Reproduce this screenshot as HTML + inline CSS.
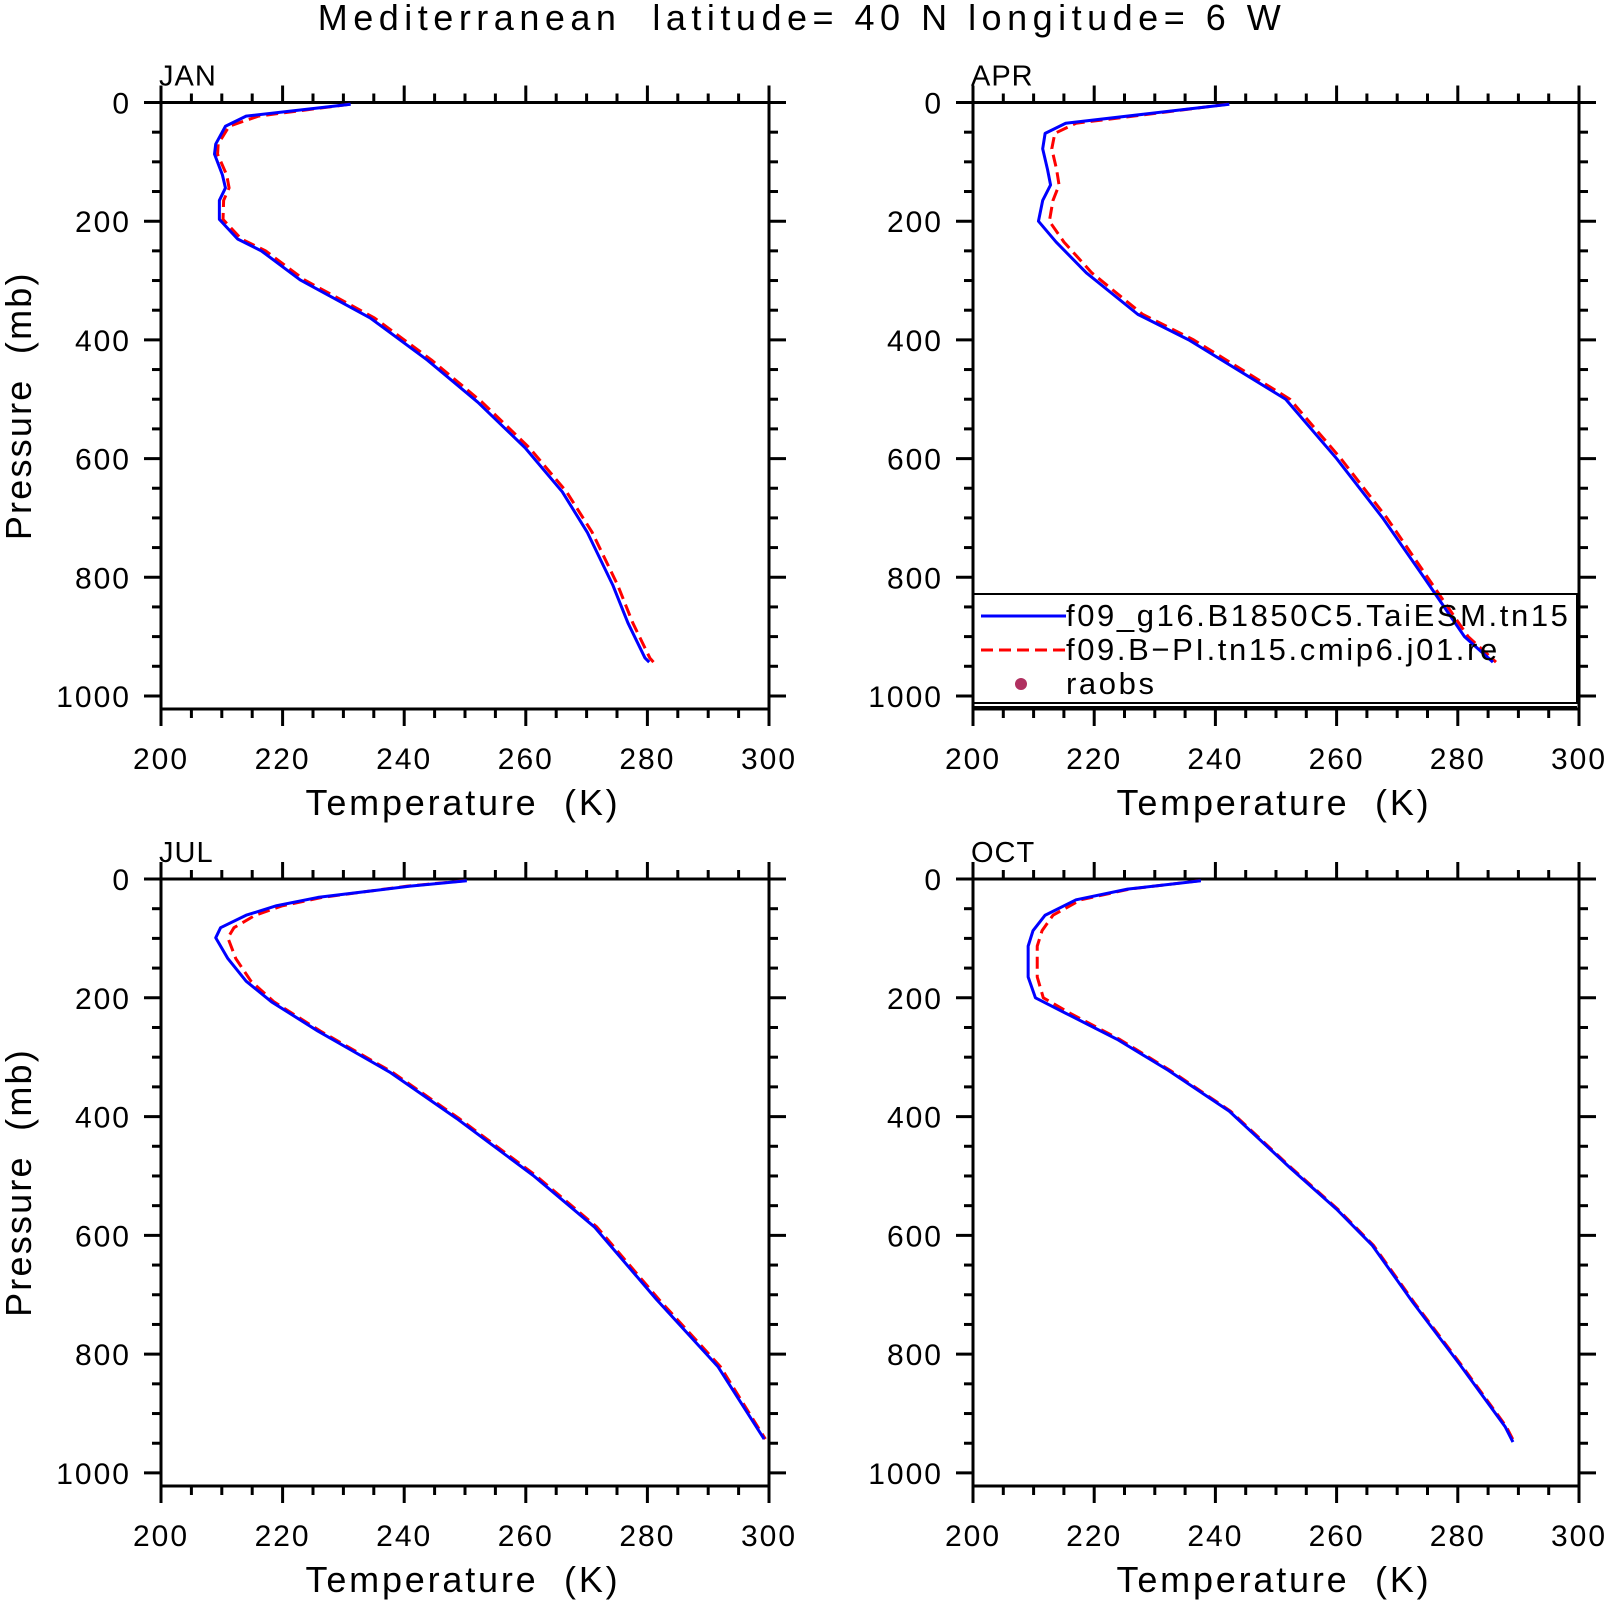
<!DOCTYPE html>
<html><head><meta charset="utf-8"><style>
html,body{margin:0;padding:0;background:#fff}
svg{display:block}
text{font-family:"Liberation Sans",sans-serif;fill:#000}
</style></head><body>
<svg id="chart" width="1606" height="1600" viewBox="0 0 1606 1600" xmlns="http://www.w3.org/2000/svg">
<text x="802" y="30" font-size="36" text-anchor="middle" letter-spacing="5.5" style="white-space:pre" xml:space="preserve">Mediterranean  latitude= 40 N longitude= 6 W</text>
<g id="panels"></g>
</svg>
<script>
// Data (temperature K vs pressure mb)
const janP = [3, 23, 40, 70, 87, 122, 144, 165, 197, 230, 250, 299, 363, 434, 505, 582, 656, 724, 813, 877, 936, 943];
const janBlue = [231.2, 214, 210.6, 209, 208.8, 210.1, 210.6, 209.6, 209.6, 212.6, 216.5, 222.9, 234.4, 243.8, 252.1, 259.9, 266.0, 270.1, 274.3, 276.8, 279.6, 280.3];
const janRed = [231.0, 216, 211.2, 209.4, 209.3, 210.8, 211.2, 210.3, 210.2, 213.2, 217.2, 223.6, 235.1, 244.5, 252.8, 260.6, 266.7, 270.9, 275.1, 277.6, 280.4, 281.0];
const aprP = [3, 35, 52, 78, 113, 139, 165, 200, 235, 287, 357, 400, 500, 600, 700, 800, 900, 943];
const aprBlue = [242.3, 215.3, 211.9, 211.5, 212.3, 212.8, 211.5, 210.8, 213.7, 218.7, 227.2, 235.6, 251.6, 260, 267.6, 274.4, 281.1, 285.8];
const aprRed = [242.0, 217.0, 213.5, 213.0, 213.8, 214.2, 213.2, 212.6, 215.0, 219.6, 228.0, 236.4, 252.3, 260.7, 268.3, 275.0, 281.7, 286.3];
const julP = [3, 12, 31, 45, 61, 82, 99, 134, 172, 207, 256, 325, 403, 499, 586, 708, 821, 943];
const julBlue = [250.3, 241, 225.8, 219, 214, 209.8, 209, 211, 214, 218.2, 225.8, 237.6, 248.6, 261.2, 271.3, 281.5, 291.6, 299.2];
const julRed = [250.0, 240.5, 226.5, 220, 215.5, 212.0, 211.0, 212.3, 214.8, 218.6, 226.2, 238.0, 249.0, 261.6, 271.7, 281.9, 292.0, 299.4];
const octP = [3, 17, 35, 61, 87, 113, 165, 200, 226, 270, 322, 391, 487, 556, 617, 713, 817, 922, 948];
const octBlue = [237.6, 225.5, 217, 211.9, 209.9, 209.1, 209.1, 210.3, 215.3, 223.8, 232.2, 242.3, 252.4, 260, 265.9, 272.6, 280.3, 287.8, 289.1];
const octRed = [237.4, 225.8, 217.8, 213.2, 211.4, 210.6, 210.6, 211.6, 216.0, 224.2, 232.5, 242.5, 252.6, 260.2, 266.1, 272.8, 280.5, 288.0, 289.3];
const xTicks = [200, 220, 240, 260, 280, 300];
const yTicks = [0, 200, 400, 600, 800, 1000];

const NS = "http://www.w3.org/2000/svg";
const root = document.getElementById('panels');
function mk(tag, attrs, parent) {
  const e = document.createElementNS(NS, tag);
  for (const k in attrs) e.setAttribute(k, attrs[k]);
  (parent || root).appendChild(e);
  return e;
}
const panels = [
  {name:'jan', label:'JAN', x0:161, x1:769, y0:102.5, y1:709, P:janP, B:janBlue, R:janRed, ytitle:true},
  {name:'apr', label:'APR', x0:973, x1:1579, y0:102.5, y1:709, P:aprP, B:aprBlue, R:aprRed, ytitle:false, legend:true},
  {name:'jul', label:'JUL', x0:161, x1:769, y0:879, y1:1486, P:julP, B:julBlue, R:julRed, ytitle:true},
  {name:'oct', label:'OCT', x0:973, x1:1579, y0:879, y1:1486, P:octP, B:octBlue, R:octRed, ytitle:false}
];
const XMIN = 200, XMAX = 300, YMIN = 0, YMAX = 1022;
panels.forEach(p => {
  const g = mk('g', {});
  
  
  const sx = v => p.x0 + (v - XMIN) / (XMAX - XMIN) * (p.x1 - p.x0);
  const sy = v => p.y0 + (v - YMIN) / (YMAX - YMIN) * (p.y1 - p.y0);
  for (let v = XMIN; v <= XMAX; v += 5) {
    const maj = v % 20 === 0, L = maj ? 17 : 9, x = sx(v);
    mk('line', {x1:x, x2:x, y1:p.y0, y2:p.y0 - L, stroke:'#000', 'stroke-width':3}, g);
    mk('line', {x1:x, x2:x, y1:p.y1, y2:p.y1 + L, stroke:'#000', 'stroke-width':3}, g);
  }
  for (let v = 0; v <= 1000; v += 50) {
    const maj = v % 200 === 0, L = maj ? 17 : 9, y = sy(v);
    mk('line', {x1:p.x0, x2:p.x0 - L, y1:y, y2:y, stroke:'#000', 'stroke-width':3}, g);
    mk('line', {x1:p.x1, x2:p.x1 + L, y1:y, y2:y, stroke:'#000', 'stroke-width':3}, g);
  }
  const frame = mk('rect', {x:p.x0, y:p.y0, width:p.x1 - p.x0, height:p.y1 - p.y0, fill:'none', stroke:'#000', 'stroke-width':3}, g);
  
  
  xTicks.forEach(v => {
    const t = mk('text', {x:sx(v), y:p.y1 + 60, 'font-size':30, 'letter-spacing':2, 'text-anchor':'middle'}, g);
    
    
    t.textContent = v;
  });
  yTicks.forEach(v => {
    const t = mk('text', {x:p.x0 - 30, y:sy(v) + 11, 'font-size':30, 'letter-spacing':2, 'text-anchor':'end'}, g);
    
    
    t.textContent = v;
  });
  const xt = mk('text', {x:(p.x0 + p.x1) / 2 - 2, y:p.y1 + 106, 'font-size':36, 'text-anchor':'middle', 'letter-spacing':2.8, style:'white-space:pre'}, g);
  
  
  xt.textContent = 'Temperature  (K)';
  if (p.ytitle) {
    const cy = (p.y0 + p.y1) / 2;
    const yt = mk('text', {x:0, y:0, 'font-size':36, 'text-anchor':'middle', 'letter-spacing':2.2, transform:`translate(31,${cy}) rotate(-90)`, style:'white-space:pre'}, g);
    
    
    yt.textContent = 'Pressure  (mb)';
  }
  const lab = mk('text', {x:p.x0 - 2, y:p.y0 - 17, 'font-size':29, 'letter-spacing':1}, g);
  
  
  lab.textContent = p.label;
  const ptsR = p.P.map((v, i) => sx(p.R[i]) + ',' + sy(v)).join(' ');
  const ptsB = p.P.map((v, i) => sx(p.B[i]) + ',' + sy(v)).join(' ');
  const lr = mk('polyline', {points:ptsR, fill:'none', stroke:'#ff0000', 'stroke-width':3, 'stroke-dasharray':'12,6', 'stroke-linejoin':'round'}, g);
  
  
  const lb = mk('polyline', {points:ptsB, fill:'none', stroke:'#0000ff', 'stroke-width':3, 'stroke-linejoin':'round'}, g);
  
  
  if (p.legend) {
    const lg = mk('g', {}, g);
    
    
    mk('rect', {x:p.x0, y:594, width:p.x1 - p.x0 - 2, height:109, fill:'none', stroke:'#000', 'stroke-width':2}, lg);
    mk('line', {x1:p.x0, x2:p.x1 - 2, y1:707, y2:707, stroke:'#000', 'stroke-width':2}, lg);
    mk('line', {x1:981, x2:1066, y1:616, y2:616, stroke:'#0000ff', 'stroke-width':3}, lg);
    mk('line', {x1:981, x2:1066, y1:650, y2:650, stroke:'#ff0000', 'stroke-width':3, 'stroke-dasharray':'12,6'}, lg);
    mk('circle', {cx:1021, cy:684, r:6, fill:'#b03060'}, lg);
    const names = ['f09_g16.B1850C5.TaiESM.tn15', 'f09.B\u2212PI.tn15.cmip6.j01.re', 'raobs'];
    const lys = [626, 660, 694];
    names.forEach((n, i) => {
      const t = mk('text', {x:1066, y:lys[i], 'font-size':31, 'letter-spacing':2.6}, lg);
      
      
      t.textContent = n;
    });
  }
});
</script>
</body></html>
